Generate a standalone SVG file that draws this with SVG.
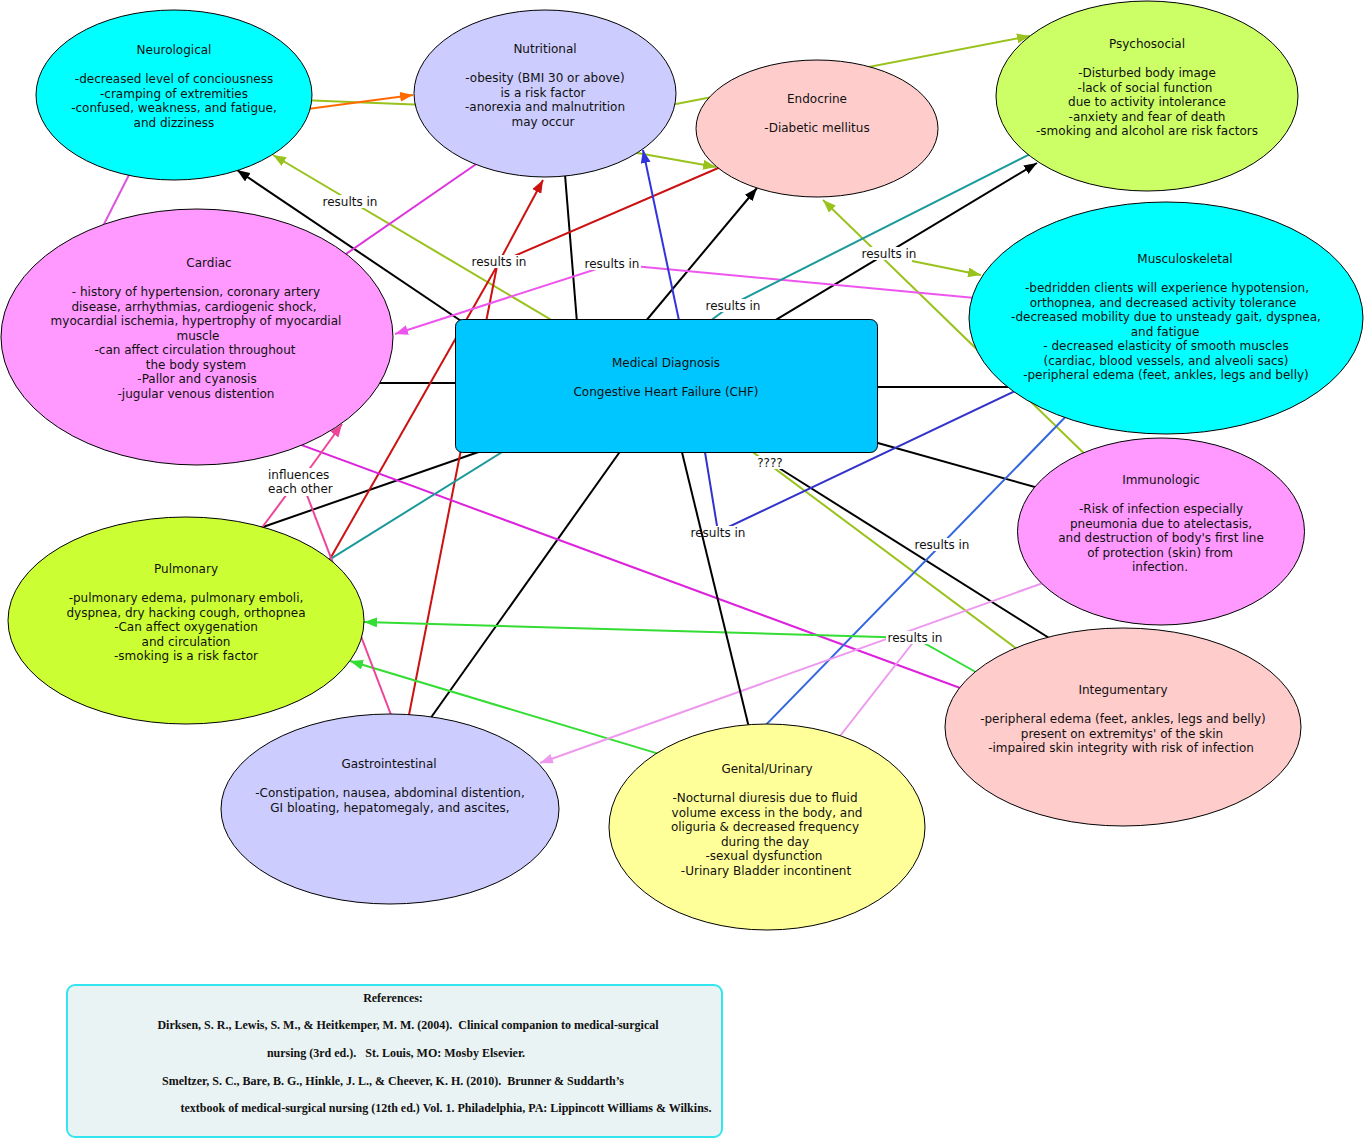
<svg xmlns="http://www.w3.org/2000/svg" width="1366" height="1141" viewBox="0 0 1366 1141">
<style>
.n{stroke:#000;stroke-width:1}
.t{font-family:"DejaVu Sans","Verdana",sans-serif;font-size:12px;fill:#111;text-anchor:middle}
.lb{font-family:"DejaVu Sans","Verdana",sans-serif;font-size:12px;fill:#111;text-anchor:middle}
.lbs{font-family:"DejaVu Sans","Verdana",sans-serif;font-size:12px;fill:#111}
.bg{fill:#fff;stroke:none}
.c{fill:none;stroke-width:2}
.k{stroke:#000}
.yg{stroke:#99c21c}
.or{stroke:#ff6a00}
.rd{stroke:#cc1111}
.m1{stroke:#ee55ee}
.m2{stroke:#dd33dd}
.m3{stroke:#dd55dd}
.m4{stroke:#dd22dd}
.b1{stroke:#3333dd}
.b2{stroke:#3333cc}
.b3{stroke:#3366dd}
.tl{stroke:#1a9a9a}
.gr{stroke:#33dd33}
.lp{stroke:#ee99ee}
.hp{stroke:#ee4499}
.ref{font-family:"Liberation Serif","Times New Roman",serif;font-size:12px;font-weight:bold;fill:#111;text-anchor:middle;white-space:pre}
</style>
<defs>
<marker id="aK" markerUnits="userSpaceOnUse" markerWidth="13" markerHeight="10" refX="13" refY="5" orient="auto"><path d="M0,0 L13,5 L0,10 z" fill="#000"/></marker>
<marker id="aYG" markerUnits="userSpaceOnUse" markerWidth="13" markerHeight="10" refX="13" refY="5" orient="auto"><path d="M0,0 L13,5 L0,10 z" fill="#99c21c"/></marker>
<marker id="aOR" markerUnits="userSpaceOnUse" markerWidth="13" markerHeight="10" refX="13" refY="5" orient="auto"><path d="M0,0 L13,5 L0,10 z" fill="#ff6a00"/></marker>
<marker id="aRD" markerUnits="userSpaceOnUse" markerWidth="13" markerHeight="10" refX="13" refY="5" orient="auto"><path d="M0,0 L13,5 L0,10 z" fill="#cc1111"/></marker>
<marker id="aM1" markerUnits="userSpaceOnUse" markerWidth="13" markerHeight="10" refX="13" refY="5" orient="auto"><path d="M0,0 L13,5 L0,10 z" fill="#ee55ee"/></marker>
<marker id="aB1" markerUnits="userSpaceOnUse" markerWidth="13" markerHeight="10" refX="13" refY="5" orient="auto"><path d="M0,0 L13,5 L0,10 z" fill="#3333dd"/></marker>
<marker id="aGR" markerUnits="userSpaceOnUse" markerWidth="13" markerHeight="10" refX="13" refY="5" orient="auto"><path d="M0,0 L13,5 L0,10 z" fill="#33dd33"/></marker>
<marker id="aLP" markerUnits="userSpaceOnUse" markerWidth="13" markerHeight="10" refX="13" refY="5" orient="auto"><path d="M0,0 L13,5 L0,10 z" fill="#ee99ee"/></marker>
<marker id="aHP" markerUnits="userSpaceOnUse" markerWidth="13" markerHeight="10" refX="13" refY="5" orient="auto"><path d="M0,0 L13,5 L0,10 z" fill="#ee4499"/></marker>
</defs>
<rect width="1366" height="1141" fill="#fff"/>
<g id="connectors">
<path class="c k" d="M470,327 L237,170" marker-end="url(#aK)"/>
<path class="c k" d="M578,335 L563,150"/>
<path class="c k" d="M640,328 L757,188" marker-end="url(#aK)"/>
<path class="c k" d="M770,323.4 L1037,163" marker-end="url(#aK)"/>
<path class="c k" d="M360,383 L470,383"/>
<path class="c k" d="M860,387 L1040,387"/>
<path class="c k" d="M860,438 L1060,494"/>
<path class="c k" d="M490,448 L240,535"/>
<path class="c k" d="M630,437.5 L420,733"/>
<path class="c k" d="M779,468 L1065,648"/>
<path class="c yg" d="M565,328 L273,155" marker-end="url(#aYG)"/>
<path class="c yg" d="M1095,464 L823,200" marker-end="url(#aYG)"/>
<path class="c yg" d="M912,261 L981,275" marker-end="url(#aYG)"/>
<path class="c yg" d="M615,149 L716,167" marker-end="url(#aYG)"/>
<path class="c yg" d="M300,100 L414,104.5 L676,104 L1030,36" marker-end="url(#aYG)"/>
<path class="c yg" d="M748,448.5 L1025,655"/>
<path class="c or" d="M300,110 L413,95" marker-end="url(#aOR)"/>
<path class="c rd" d="M322,573 L497,266"/>
<path class="c rd" d="M407,725 L497,266"/>
<path class="c rd" d="M499,262 L543,180" marker-end="url(#aRD)"/>
<path class="c rd" d="M505,260 L760,150"/>
<path class="c m1" d="M1050,305 L612,264 L395,334" marker-end="url(#aM1)"/>
<path class="c m2" d="M330,265 L485,158"/>
<path class="c m3" d="M134,165 L100,232"/>
<path class="c m4" d="M250,426 L990,699"/>
<path class="c b1" d="M681,330 L643,150" marker-end="url(#aB1)"/>
<path class="c b2" d="M703,440 L718,532 L1030,384"/>
<path class="c b3" d="M1077,405 L756,735"/>
<path class="c tl" d="M1045,146.6 L733,304 L706,324"/>
<path class="c tl" d="M515,444 L325,562.4"/>
<path class="c gr" d="M990,680 L915,638 L364,622" marker-end="url(#aGR)"/>
<path class="c gr" d="M668,756.6 L350,661" marker-end="url(#aGR)"/>
<path class="c lp" d="M1050,580.5 L540,763" marker-end="url(#aLP)"/>
<path class="c lp" d="M915,640 L833,745"/>
<path class="c hp" d="M398,733 L305,490"/>
<path class="c hp" d="M256.5,535 L290,490"/>
<path class="c hp" d="M305,475 L342,424" marker-end="url(#aHP)"/>
<g id="labels">
<rect class="bg" x="321" y="195" width="58" height="13"/>
<text class="lb" x="350" y="206">results in</text>
<rect class="bg" x="470" y="255" width="58" height="13"/>
<text class="lb" x="499" y="266">results in</text>
<rect class="bg" x="583" y="257" width="58" height="13"/>
<text class="lb" x="612" y="268">results in</text>
<rect class="bg" x="704" y="299" width="58" height="13"/>
<text class="lb" x="733" y="310">results in</text>
<rect class="bg" x="860" y="247" width="58" height="13"/>
<text class="lb" x="889" y="258">results in</text>
<rect class="bg" x="689" y="526" width="58" height="13"/>
<text class="lb" x="718" y="537">results in</text>
<rect class="bg" x="913" y="538" width="58" height="13"/>
<text class="lb" x="942" y="549">results in</text>
<rect class="bg" x="886" y="631" width="58" height="13"/>
<text class="lb" x="915" y="642">results in</text>
<rect class="bg" x="756" y="456" width="28" height="13"/>
<text class="lb" x="770" y="467">????</text>
<rect class="bg" x="266" y="468" width="67" height="28"/>
<text class="lbs" x="268" y="479">influences</text>
<text class="lbs" x="268" y="493">each other</text>
</g>
<path class="c k" d="M679,440 L752,740"/>
</g>
<g id="neurological">
<ellipse class="n" cx="174" cy="95" rx="138" ry="85" fill="#00ffff"/>
<text class="t" x="174" y="54">Neurological<tspan x="174" dy="29">-decreased level of conciousness</tspan><tspan x="174" dy="14.5">-cramping of extremities</tspan><tspan x="174" dy="14.5">-confused, weakness, and fatigue,</tspan><tspan x="174" dy="14.5">and dizziness</tspan></text>
</g>
<g id="nutritional">
<ellipse class="n" cx="545" cy="93.5" rx="131" ry="83.5" fill="#ccccff"/>
<text class="t" x="545" y="53">Nutritional<tspan x="545" dy="29">-obesity (BMI 30 or above)</tspan><tspan x="543" dy="14.5">is a risk factor</tspan><tspan x="545" dy="14.5">-anorexia and malnutrition</tspan><tspan x="543" dy="14.5">may occur</tspan></text>
</g>
<g id="endocrine">
<ellipse class="n" cx="817" cy="128.5" rx="121" ry="68.5" fill="#ffcccc"/>
<text class="t" x="817" y="103">Endocrine<tspan x="817" dy="29">-Diabetic mellitus</tspan></text>
</g>
<g id="psychosocial">
<ellipse class="n" cx="1147" cy="96" rx="151" ry="95" fill="#ccff66"/>
<text class="t" x="1147" y="48">Psychosocial<tspan x="1147" dy="29">-Disturbed body image</tspan><tspan x="1145" dy="14.5">-lack of social function</tspan><tspan x="1147" dy="14.5">due to activity intolerance</tspan><tspan x="1147" dy="14.5">-anxiety and fear of death</tspan><tspan x="1147" dy="14.5">-smoking and alcohol are risk factors</tspan></text>
</g>
<g id="musculoskeletal">
<ellipse class="n" cx="1166" cy="318" rx="197" ry="116" fill="#00ffff"/>
<text class="t" x="1185" y="263">Musculoskeletal<tspan x="1167" dy="29">-bedridden clients will experience hypotension,</tspan><tspan x="1163" dy="14.5">orthopnea, and decreased activity tolerance</tspan><tspan x="1166" dy="14.5">-decreased mobility due to unsteady gait, dyspnea,</tspan><tspan x="1165" dy="14.5">and fatigue</tspan><tspan x="1166" dy="14.5">- decreased elasticity of smooth muscles</tspan><tspan x="1166" dy="14.5">(cardiac, blood vessels, and alveoli sacs)</tspan><tspan x="1166" dy="14.5">-peripheral edema (feet, ankles, legs and belly)</tspan></text>
</g>
<g id="cardiac">
<ellipse class="n" cx="197" cy="337" rx="196" ry="128" fill="#ff99ff"/>
<text class="t" x="209" y="267">Cardiac<tspan x="196" dy="29">- history of hypertension, coronary artery</tspan><tspan x="194" dy="14.5">disease, arrhythmias, cardiogenic shock,</tspan><tspan x="196" dy="14.5">myocardial ischemia, hypertrophy of myocardial</tspan><tspan x="198" dy="14.5">muscle</tspan><tspan x="195" dy="14.5">-can affect circulation throughout</tspan><tspan x="196" dy="14.5">the body system</tspan><tspan x="197" dy="14.5">-Pallor and cyanosis</tspan><tspan x="196" dy="14.5">-jugular venous distention</tspan></text>
</g>
<g id="medical-diagnosis">
<rect class="n" x="455.5" y="319.5" width="422" height="133" rx="7" fill="#00c6ff"/>
<text class="t" x="666" y="367">Medical Diagnosis<tspan x="666" dy="29">Congestive Heart Failure (CHF)</tspan></text>
</g>
<g id="pulmonary">
<ellipse class="n" cx="186" cy="620.5" rx="178" ry="103.5" fill="#ccff33"/>
<text class="t" x="186" y="573">Pulmonary<tspan x="186" dy="29">-pulmonary edema, pulmonary emboli,</tspan><tspan x="186" dy="14.5">dyspnea, dry hacking cough, orthopnea</tspan><tspan x="186" dy="14.5">-Can affect oxygenation</tspan><tspan x="186" dy="14.5">and circulation</tspan><tspan x="186" dy="14.5">-smoking is a risk factor</tspan></text>
</g>
<g id="gastrointestinal">
<ellipse class="n" cx="390" cy="809" rx="169" ry="95" fill="#ccccff"/>
<text class="t" x="389" y="768">Gastrointestinal<tspan x="390" dy="29">-Constipation, nausea, abdominal distention,</tspan><tspan x="390" dy="14.5">GI bloating, hepatomegaly, and ascites,</tspan></text>
</g>
<g id="genital-urinary">
<ellipse class="n" cx="767" cy="827" rx="158" ry="103" fill="#ffff99"/>
<text class="t" x="767" y="773">Genital/Urinary<tspan x="765" dy="29">-Nocturnal diuresis due to fluid</tspan><tspan x="767" dy="14.5">volume excess in the body, and</tspan><tspan x="765" dy="14.5">oliguria &amp; decreased frequency</tspan><tspan x="765" dy="14.5">during the day</tspan><tspan x="764" dy="14.5">-sexual dysfunction</tspan><tspan x="766" dy="14.5">-Urinary Bladder incontinent</tspan></text>
</g>
<g id="integumentary">
<ellipse class="n" cx="1123" cy="727" rx="178" ry="99" fill="#ffcccc"/>
<text class="t" x="1123" y="694">Integumentary<tspan x="1123" dy="29">-peripheral edema (feet, ankles, legs and belly)</tspan><tspan x="1122" dy="14.5">present on extremitys' of the skin</tspan><tspan x="1121" dy="14.5">-impaired skin integrity with risk of infection</tspan></text>
</g>
<g id="immunologic">
<ellipse class="n" cx="1161" cy="531.5" rx="143.5" ry="93.5" fill="#ff99ff"/>
<text class="t" x="1161" y="484">Immunologic<tspan x="1161" dy="29">-Risk of infection especially</tspan><tspan x="1161" dy="14.5">pneumonia due to atelectasis,</tspan><tspan x="1161" dy="14.5">and destruction of body's first line</tspan><tspan x="1160" dy="14.5">of protection (skin) from</tspan><tspan x="1160" dy="14.5">infection.</tspan></text>
</g>
<g id="references">
<rect x="67" y="985" width="655" height="152" rx="8" fill="#eaf3f4" stroke="#33e5ee" stroke-width="2"/>
<text class="ref" x="393" y="1002">References:</text>
<text class="ref" x="408" y="1029">Dirksen, S. R., Lewis, S. M., &amp; Heitkemper, M. M. (2004).  Clinical companion to medical-surgical</text>
<text class="ref" x="396" y="1057">nursing (3rd ed.).   St. Louis, MO: Mosby Elsevier.</text>
<text class="ref" x="393" y="1085">Smeltzer, S. C., Bare, B. G., Hinkle, J. L., &amp; Cheever, K. H. (2010).  Brunner &amp; Suddarth’s</text>
<text class="ref" x="446" y="1112">textbook of medical-surgical nursing (12th ed.) Vol. 1. Philadelphia, PA: Lippincott Williams &amp; Wilkins.</text>
</g>
</svg>
